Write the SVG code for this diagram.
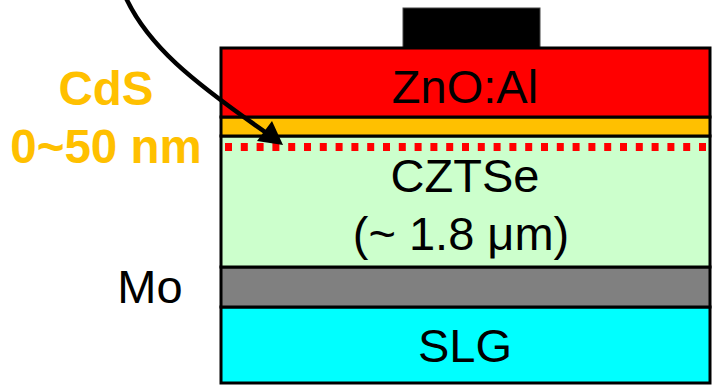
<svg xmlns="http://www.w3.org/2000/svg" width="712" height="390" viewBox="0 0 712 390">
<style>
.layer{stroke:#000;stroke-width:3}
.lbl{font-family:"Liberation Sans",Arial,sans-serif;font-size:47px;fill:#000;text-anchor:middle}
.cds{font-family:"Liberation Sans",Arial,sans-serif;font-size:47.5px;font-weight:bold;fill:#FFC000;text-anchor:middle}
</style>
<rect width="712" height="390" fill="#fff"/>
<g id="contact"><rect x="403" y="8" width="137" height="41" fill="#000" stroke="#444" stroke-width="1"/></g>
<g id="slg"><rect class="layer" x="221" y="307" width="489" height="76" fill="#00FFFF"/><text class="lbl" x="465" y="362">SLG</text></g>
<g id="mo"><rect class="layer" x="221" y="267" width="489" height="40" fill="#808080"/><text class="lbl" x="150" y="303">Mo</text></g>
<g id="czts"><rect class="layer" x="221" y="136" width="489" height="131" fill="#CCFFCC"/><text class="lbl" x="465" y="192">CZTSe</text><text class="lbl" x="461" y="250">(~ 1.8 μm)</text></g>
<g id="cds"><rect class="layer" x="221" y="117" width="489" height="19" fill="#FFC000"/><text class="cds" x="106" y="105">CdS</text><text class="cds" x="106" y="163">0~50 nm</text></g>
<g id="zno"><rect class="layer" x="221" y="48" width="489" height="69" fill="#FF0000"/><text class="lbl" x="465" y="103">ZnO:Al</text></g>
<g id="interface"><line x1="225" y1="147" x2="708" y2="147" stroke="#FF0000" stroke-width="8" stroke-dasharray="7 8.8"/></g>
<g id="connectors">
<path d="M126,-2 C148,45 190,80 268,134" fill="none" stroke="#000" stroke-width="4.5"/>
<polygon points="283,145 257,141 272,121" fill="#000"/>
</g>
</svg>
